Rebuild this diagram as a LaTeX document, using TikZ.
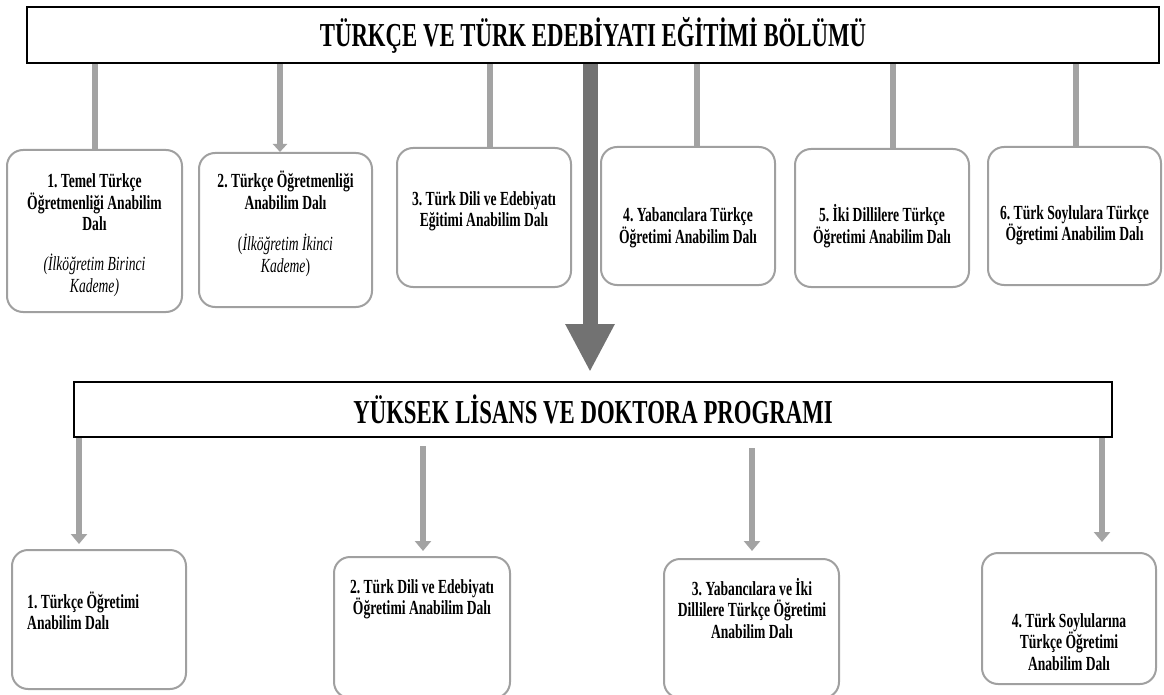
\documentclass[tikz,border=0pt]{standalone}
\usepackage{fontspec}
\setmainfont{Liberation Serif}[FakeStretch=0.68]
\usetikzlibrary{arrows.meta}
\definecolor{linkgray}{HTML}{A3A3A3}
\definecolor{boxgray}{HTML}{A0A0A0}
\definecolor{trunkgray}{HTML}{727272}
\frenchspacing
\begin{document}
\begin{tikzpicture}[x=1pt,y=-1pt,
  headbox/.style={draw=black,line width=2pt,fill=white,inner sep=0pt,
    font=\fontsize{33.5}{38}\selectfont\bfseries},
  unitbox/.style={draw=boxgray,line width=2pt,rounded corners=16pt,fill=white,inner sep=0pt},
  txt/.style={inner sep=0pt,anchor=base,text width=#1,align=flush center,
    font=\fontsize{20}{21.5}\selectfont\bfseries},
  itxt/.style={inner sep=0pt,anchor=base,text width=#1,align=flush center,
    font=\fontsize{20}{22}\selectfont},
  link/.style={draw=linkgray,line width=6.5pt},
  linkarrow/.style={link,-{Triangle[width=16pt,length=10pt]}},
  trunk/.style={draw=trunkgray,line width=15pt,-{Triangle[width=46pt,length=48pt]}}
]
\useasboundingbox (0,0) rectangle (1164,695);

% department heading
\node[headbox,minimum width=1132,minimum height=56] (head) at (593,35)
  {TÜRKÇE VE TÜRK EDEBİYATI EĞİTİMİ BÖLÜMÜ};

% undergraduate branches
\node[unitbox,minimum width=175,minimum height=162] (t1) at (94.5,231) {};
\node[unitbox,minimum width=173,minimum height=154] (t2) at (285.5,230) {};
\node[unitbox,minimum width=174,minimum height=139] (t3) at (484,217.5) {};
\node[unitbox,minimum width=174,minimum height=138] (t4) at (688,216) {};
\node[unitbox,minimum width=174,minimum height=138] (t5) at (882,218) {};
\node[unitbox,minimum width=173,minimum height=138] (t6) at (1074.5,216) {};

\node[txt=170] (t1a) at (94.5,188) {1. Temel Türkçe\\Öğretmenliği Anabilim\\Dalı};
\node[itxt=170] (t1b) at (94.5,270) {\textit{(İlköğretim Birinci\\Kademe)}};
\node[txt=170] (t2a) at (285.5,188) {2. Türkçe Öğretmenliği\\Anabilim Dalı};
\node[itxt=170] (t2b) at (285.5,250) {(\textit{İlköğretim İkinci}\\\textit{Kademe})};
\node[txt=170] (t3a) at (484,205) {3. Türk Dili ve Edebiyatı\\Eğitimi Anabilim Dalı};
\node[txt=170] (t4a) at (688,222) {4. Yabancılara Türkçe\\Öğretimi Anabilim Dalı};
\node[txt=170] (t5a) at (882,222) {5. İki Dillilere Türkçe\\Öğretimi Anabilim Dalı};
\node[txt=170] (t6a) at (1074.5,219) {6. Türk Soylulara Türkçe\\Öğretimi Anabilim Dalı};

% connector columns below the heading
\coordinate (c1) at (95,0);
\coordinate (c2) at (280,0);
\coordinate (c3) at (490,0);
\coordinate (c4) at (697,0);
\coordinate (c5) at (893,0);
\coordinate (c6) at (1076,0);
\coordinate (ct) at (590,0);

\draw[link] (head.south -| c1) -- (t1.north -| c1);
\draw[link,-{Triangle[width=14pt,length=8pt]}] (head.south -| c2) -- (t2.north -| c2);
\draw[link] (head.south -| c3) -- (t3.north -| c3);
\draw[link] (head.south -| c4) -- (t4.north -| c4);
\draw[link] (head.south -| c5) -- (t5.north -| c5);
\draw[link] (head.south -| c6) -- (t6.north -| c6);

% graduate programme heading
\node[headbox,minimum width=1038,minimum height=55] (grad) at (593,409.5)
  {YÜKSEK LİSANS VE DOKTORA PROGRAMI};

\draw[trunk,shorten >=9pt] (head.south -| ct) -- (grad.north -| ct);

% graduate branches
\node[unitbox,minimum width=174,minimum height=139] (g1) at (99,619.5) {};
\node[unitbox,minimum width=176,minimum height=141] (g2) at (422,627.5) {};
\node[unitbox,minimum width=175,minimum height=139] (g3) at (751.5,628.5) {};
\node[unitbox,minimum width=174,minimum height=131] (g4) at (1069,618.5) {};

\node[txt=160,anchor=base west,align=flush left] (g1a) at (27,608) {1. Türkçe Öğretimi\\Anabilim Dalı};
\node[txt=170] (g2a) at (422,593) {2. Türk Dili ve Edebiyatı\\Öğretimi Anabilim Dalı};
\node[txt=170] (g3a) at (752,595) {3. Yabancılara ve İki\\Dillilere Türkçe Öğretimi\\Anabilim Dalı};
\node[txt=170] (g4a) at (1069,627) {4. Türk Soylularına\\Türkçe Öğretimi\\Anabilim Dalı};

\coordinate (d1) at (79,0);
\coordinate (d2) at (423,0);
\coordinate (d3) at (752,0);
\coordinate (d4) at (1102,0);

\draw[linkarrow,shorten >=5pt] (grad.south -| d1) -- (g1.north -| d1);
\draw[linkarrow,shorten <=8pt,shorten >=5pt] (grad.south -| d2) -- (g2.north -| d2);
\draw[linkarrow,shorten <=10pt,shorten >=7pt] (grad.south -| d3) -- (g3.north -| d3);
\draw[linkarrow,shorten >=10pt] (grad.south -| d4) -- (g4.north -| d4);
\end{tikzpicture}
\end{document}
